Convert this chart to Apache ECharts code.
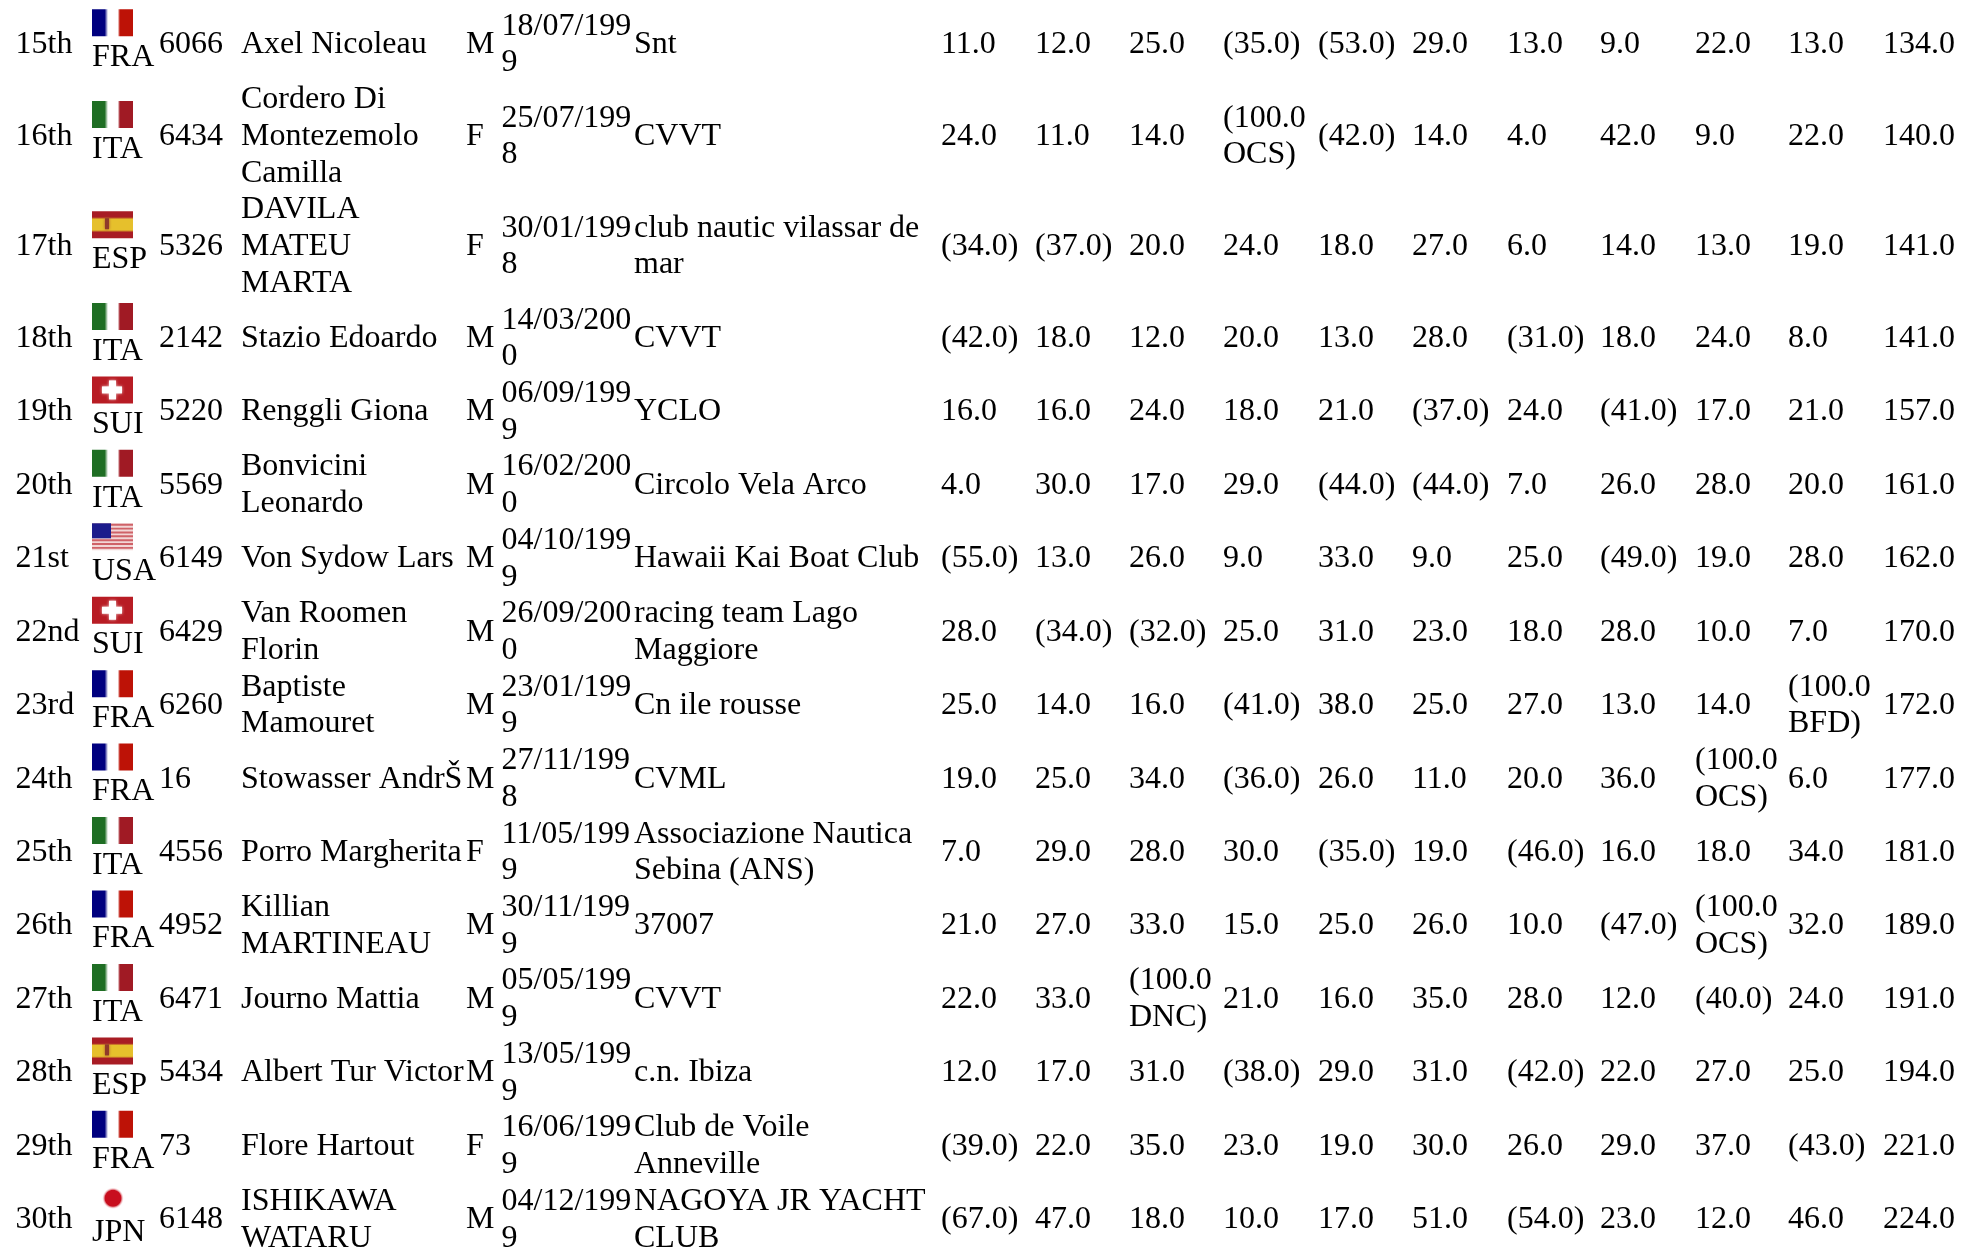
<!DOCTYPE html>
<html><head><meta charset="utf-8">
<style>html,body{margin:0;padding:0;background:#fff}#c{width:1980px;height:1252px}</style>
<script src="https://cdn.jsdelivr.net/npm/echarts@6/dist/echarts.min.js"></script>
</head><body><div id="c"></div>
<script>
const ranks=["15th","16th","17th","18th","19th","20th","21st","22nd","23rd","24th","25th","26th","27th","28th","29th","30th"];
const nations=["FRA","ITA","ESP","ITA","SUI","ITA","USA","SUI","FRA","FRA","ITA","FRA","ITA","ESP","FRA","JPN"];
const sailNos=["6066","6434","5326","2142","5220","5569","6149","6429","6260","16","4556","4952","6471","5434","73","6148"];
const names=["Axel Nicoleau","Cordero Di\nMontezemolo\nCamilla","DAVILA\nMATEU\nMARTA","Stazio Edoardo","Renggli Giona","Bonvicini\nLeonardo","Von Sydow Lars","Van Roomen\nFlorin","Baptiste\nMamouret","Stowasser AndrŠ","Porro Margherita","Killian\nMARTINEAU","Journo Mattia","Albert Tur Victor","Flore Hartout","ISHIKAWA\nWATARU"];
const sexes=["M","F","F","M","M","M","M","M","M","M","F","M","M","M","F","M"];
const dates=["18/07/199\n9","25/07/199\n8","30/01/199\n8","14/03/200\n0","06/09/199\n9","16/02/200\n0","04/10/199\n9","26/09/200\n0","23/01/199\n9","27/11/199\n8","11/05/199\n9","30/11/199\n9","05/05/199\n9","13/05/199\n9","16/06/199\n9","04/12/199\n9"];
const clubs=["Snt","CVVT","club nautic vilassar de\nmar","CVVT","YCLO","Circolo Vela Arco","Hawaii Kai Boat Club","racing team Lago\nMaggiore","Cn ile rousse","CVML","Associazione Nautica\nSebina (ANS)","37007","CVVT","c.n. Ibiza","Club de Voile\nAnneville","NAGOYA JR YACHT\nCLUB"];
const race1=["11.0","24.0","(34.0)","(42.0)","16.0","4.0","(55.0)","28.0","25.0","19.0","7.0","21.0","22.0","12.0","(39.0)","(67.0)"];
const race2=["12.0","11.0","(37.0)","18.0","16.0","30.0","13.0","(34.0)","14.0","25.0","29.0","27.0","33.0","17.0","22.0","47.0"];
const race3=["25.0","14.0","20.0","12.0","24.0","17.0","26.0","(32.0)","16.0","34.0","28.0","33.0","(100.0\nDNC)","31.0","35.0","18.0"];
const race4=["(35.0)","(100.0\nOCS)","24.0","20.0","18.0","29.0","9.0","25.0","(41.0)","(36.0)","30.0","15.0","21.0","(38.0)","23.0","10.0"];
const race5=["(53.0)","(42.0)","18.0","13.0","21.0","(44.0)","33.0","31.0","38.0","26.0","(35.0)","25.0","16.0","29.0","19.0","17.0"];
const race6=["29.0","14.0","27.0","28.0","(37.0)","(44.0)","9.0","23.0","25.0","11.0","19.0","26.0","35.0","31.0","30.0","51.0"];
const race7=["13.0","4.0","6.0","(31.0)","24.0","7.0","25.0","18.0","27.0","20.0","(46.0)","10.0","28.0","(42.0)","26.0","(54.0)"];
const race8=["9.0","42.0","14.0","18.0","(41.0)","26.0","(49.0)","28.0","13.0","36.0","16.0","(47.0)","12.0","22.0","29.0","23.0"];
const race9=["22.0","9.0","13.0","24.0","17.0","28.0","19.0","10.0","14.0","(100.0\nOCS)","18.0","(100.0\nOCS)","(40.0)","27.0","37.0","12.0"];
const race10=["13.0","22.0","19.0","8.0","21.0","20.0","28.0","7.0","(100.0\nBFD)","6.0","34.0","32.0","24.0","25.0","(43.0)","46.0"];
const nets=["134.0","140.0","141.0","141.0","157.0","161.0","162.0","170.0","172.0","177.0","181.0","189.0","191.0","194.0","221.0","224.0"];

const FONT='32px "Liberation Serif"';
const LH=36.72, TOP=8;
const raceCols=[race1,race2,race3,race4,race5,race6,race7,race8,race9,race10,nets];
const raceX=[941,1035,1129,1223,1318,1412,1507,1600,1695,1788,1883];
const textCols=[[sailNos,159],[names,241],[sexes,466],[dates,501.5],[clubs,634]].concat(raceCols.map((a,i)=>[a,raceX[i]]));

const rowLines=names.map(n=>Math.max(2,n.split('\n').length));
const rowCenter=[];let acc=TOP;
rowLines.forEach(l=>{rowCenter.push(acc+l*LH/2);acc+=l*LH;});

const FW=41,FH=27;
const hGrad=(a,b)=>({type:'linear',x:0,y:0,x2:1,y2:0,colorStops:[{offset:0,color:a},{offset:.31,color:a},{offset:.39,color:'#fff'},{offset:.63,color:'#fff'},{offset:.68,color:b},{offset:1,color:b}]});
const ESP_GRAD={type:'linear',x:0,y:0,x2:0,y2:1,colorStops:[{offset:0,color:'#a81c24'},{offset:.22,color:'#a81c24'},{offset:.3,color:'#e6c02c'},{offset:.7,color:'#e6c02c'},{offset:.78,color:'#a81c24'},{offset:1,color:'#a81c24'}]};
const JPN_GRAD={type:'radial',x:.5,y:.5,r:.5,colorStops:[{offset:0,color:'#c80e1e'},{offset:.72,color:'#c80e1e'},{offset:1,color:'rgba(255,255,255,0)'}]};
function flag(code,x,y){
  const kids=[];
  const r=(a,b,w,h,fill,extra)=>kids.push({type:'rect',shape:{x:x+a,y:y+b,width:w,height:h},style:Object.assign({fill},extra||{}),silent:true});
  if(code==='FRA'){r(0,0,FW,FH,hGrad('#00007f','#bd1206'));}
  else if(code==='ITA'){r(0,0,FW,FH,hGrad('#1f6e24','#a01a24'));}
  else if(code==='ESP'){r(0,0,FW,FH,ESP_GRAD);r(13,7,4,11,'#8f3a2a',{shadowBlur:3,shadowColor:'#a8482c'});}
  else if(code==='SUI'){r(0,0,FW,FH,'#b81c24');const s={shadowBlur:3,shadowColor:'rgba(255,255,255,.8)'};r(17,4,7,19,'#fff',s);r(10,10,20,7,'#fff',s);}
  else if(code==='USA'){r(0,0,FW,FH,'#f2d6d6');for(let i=0;i<7;i++)r(0,i*FH/7+.5,FW,FH/14,'#cf6268');r(0,0,19,15,'#1c1c8c');}
  else if(code==='JPN'){kids.push({type:'circle',shape:{cx:x+21,cy:y+14,r:11},style:{fill:JPN_GRAD},silent:true});}
  return kids;
}
function renderItem(params,api){
  const i=api.value(0), cy=rowCenter[i];
  const kids=[];
  const put=(txt,xv,yv)=>{const p=api.coord([xv,yv]);
    kids.push({type:'text',x:p[0],y:p[1],silent:true,style:{text:txt,font:FONT,fill:'#000',align:'left',verticalAlign:'middle',lineHeight:LH}});};
  put(ranks[i],15.5,cy);
  const fp=api.coord([92,cy-35.5]);
  kids.push(...flag(nations[i],fp[0],fp[1]));
  put(nations[i],92,cy+12.8);
  textCols.forEach(([arr,x])=>put(arr[i],x,cy));
  return {type:'group',children:kids};
}
const chart=echarts.init(document.getElementById('c'),null,{renderer:'canvas'});
chart.setOption({animation:false,backgroundColor:'#fff',
  grid:{left:0,right:0,top:0,bottom:0},
  xAxis:{type:'value',min:0,max:1980,show:false},
  yAxis:{type:'value',min:0,max:1252,inverse:true,show:false},
  series:[{type:'custom',coordinateSystem:'cartesian2d',clip:true,silent:true,renderItem,
    encode:{x:0,y:0},data:ranks.map((_,i)=>[i])}]});
</script></body></html>
